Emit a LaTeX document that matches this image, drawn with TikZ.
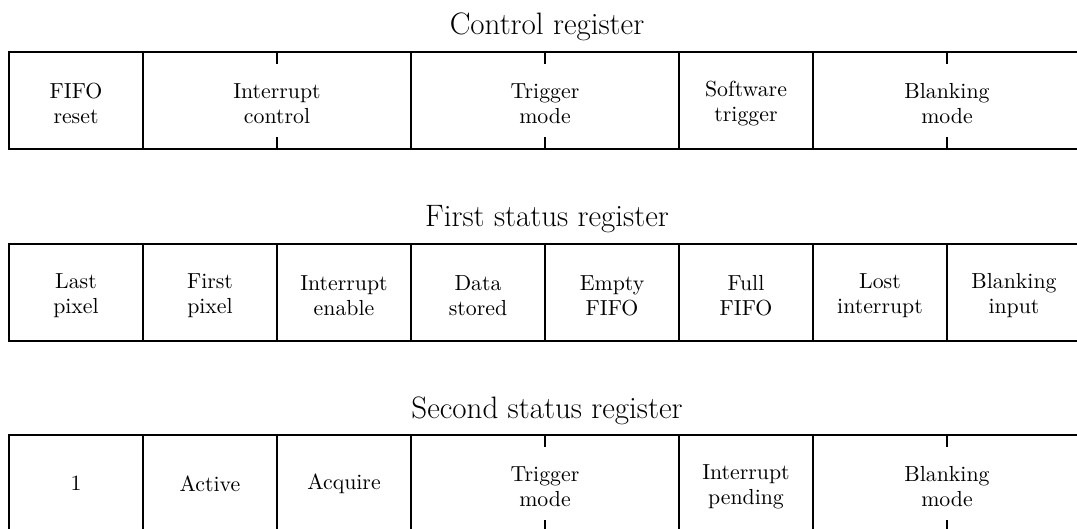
\documentclass[tikz,border=0pt]{standalone}
\newcommand\topstrutx{\rule{0pt}{11pt}}
\begin{document}
\begin{tikzpicture}[x=1pt,y=1pt,
  field/.style={draw, line width=0.9pt, rectangle, inner sep=0pt, outer sep=0pt,
    minimum height=48.5pt, minimum width=#1*67pt, align=center, anchor=north west,
    font=\fontsize{10.9}{12.6}\selectfont},
  regtitle/.style={anchor=base, font=\fontsize{15.5}{18}\selectfont},
  tickmark/.style={line width=0.9pt}]
\path[use as bounding box, clip] (0,0) rectangle (538.5,-264.5);

% Control register
\node[regtitle] (t1) at (273.5,-17.5) {Control register};
\node[field=1] (a1) at (4.5,-26) {\topstrutx FIFO\\reset};
\node[field=2] (a2) at (a1.north east) {\topstrutx Interrupt\\control};
\node[field=2] (a3) at (a2.north east) {\topstrutx Trigger\\mode};
\node[field=1] (a4) at (a3.north east) {\topstrutx Software\\trigger};
\node[field=2] (a5) at (a4.north east) {\topstrutx Blanking\\mode};
\foreach \f in {a2,a3,a5}{
  \draw[tickmark] (\f.north) -- ++(0,-6);
  \draw[tickmark] (\f.south) -- ++(0,6);
}

% First status register
\node[regtitle] (t2) at (273.5,-113.5) {First status register};
\node[field=1] (b1) at (4.5,-122) {\topstrutx Last\\pixel};
\node[field=1] (b2) at (b1.north east) {\topstrutx First\\pixel};
\node[field=1] (b3) at (b2.north east) {\topstrutx Interrupt\\enable};
\node[field=1] (b4) at (b3.north east) {\topstrutx Data\\stored};
\node[field=1] (b5) at (b4.north east) {\topstrutx Empty\\FIFO};
\node[field=1] (b6) at (b5.north east) {\topstrutx Full\\FIFO};
\node[field=1] (b7) at (b6.north east) {\topstrutx Lost\\interrupt};
\node[field=1] (b8) at (b7.north east) {\topstrutx Blanking\\input};

% Second status register
\node[regtitle] (t3) at (273.5,-209) {Second status register};
\node[field=1] (c1) at (4.5,-217.5) {1};
\node[field=1] (c2) at (c1.north east) {Active};
\node[field=1] (c3) at (c2.north east) {Acquire};
\node[field=2] (c4) at (c3.north east) {\topstrutx Trigger\\mode};
\node[field=1] (c5) at (c4.north east) {\topstrutx Interrupt\\pending};
\node[field=2] (c6) at (c5.north east) {\topstrutx Blanking\\mode};
\foreach \f in {c4,c6}{
  \draw[tickmark] (\f.north) -- ++(0,-6);
  \draw[tickmark] (\f.south) -- ++(0,6);
}
\end{tikzpicture}
\end{document}
